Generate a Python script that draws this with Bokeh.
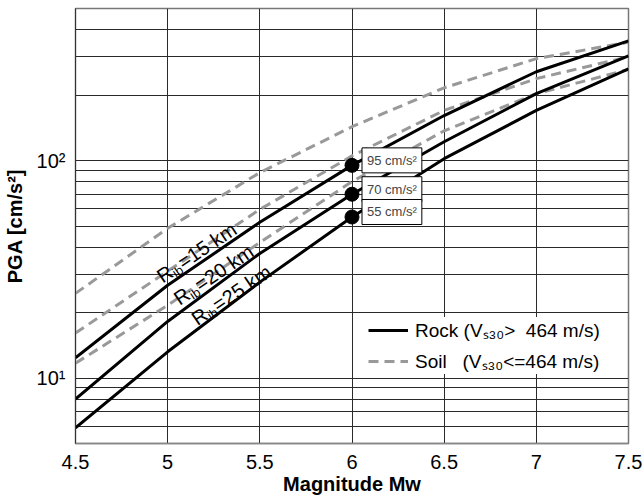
import math
from bokeh.plotting import figure
from bokeh.models import (Range1d, FixedTicker, Label, Legend, LegendItem,
                          ColumnDataSource)
from bokeh.core.properties import value
from bokeh.embed import file_html
from bokeh.resources import INLINE

# ---------------- data ----------------
magnitude = [4.5, 5.0, 5.5, 6.0, 6.5, 7.0, 7.5]
rock_r15 = [12.4, 26.7, 52.0, 95, 161, 256, 355]
rock_r20 = [8.0, 18.2, 37.4, 70, 122, 203, 303]
rock_r25 = [5.9, 13.2, 27.6, 55, 102, 170, 264]
soil_r15 = [24.5, 48.8, 88, 143, 216, 294, 350]
soil_r20 = [16.1, 31.0, 59.6, 105, 170, 238, 300]
soil_r25 = [11.7, 21.6, 42.0, 80, 137, 203, 262]

point_m = [6.0, 6.0, 6.0]
point_pga = [95, 70, 55]
point_labels = ["95 cm/s\u00b2", "70 cm/s\u00b2", "55 cm/s\u00b2"]

distance_names = ["15", "20", "25"]
distance_label_m = [4.967, 5.060, 5.156]
distance_label_pga = [27.6, 21.8, 17.6]

x_ticks = [4.5, 5.0, 5.5, 6.0, 6.5, 7.0, 7.5]
x_tick_labels = ["4.5", "5", "5.5", "6", "6.5", "7", "7.5"]
y_major = [10, 100]
y_major_labels = ["10\u00b9", "10\u00b2"]
y_minor = [5, 6, 7, 8, 9, 20, 30, 40, 50, 60, 70, 80, 90, 200, 300, 400, 500]

FONT = "Liberation Sans"
GRID = "#2a2a2a"

p = figure(width=644, height=497, y_axis_type="log",
           x_range=Range1d(4.5, 7.5), y_range=Range1d(5, 500),
           output_backend="svg", toolbar_location=None,
           min_border_left=75, min_border_right=16,
           min_border_top=8, min_border_bottom=51)
p.background_fill_color = "white"
p.border_fill_color = "white"
p.outline_line_color = "#777777"
p.outline_line_width = 1.5

# axes
p.xaxis.ticker = FixedTicker(ticks=x_ticks)
p.xaxis.major_label_overrides = {t: s for t, s in zip(x_ticks, x_tick_labels)}
p.yaxis.ticker = FixedTicker(ticks=y_major, minor_ticks=y_minor)
p.yaxis.major_label_overrides = {t: s for t, s in zip(y_major, y_major_labels)}
for ax in (p.xaxis[0], p.yaxis[0]):
    ax.major_tick_line_color = None
    ax.minor_tick_line_color = None
    ax.major_label_text_font = FONT
    ax.major_label_text_font_size = "20px"
    ax.major_label_text_color = "black"
    ax.axis_label_text_font = FONT
    ax.axis_label_text_font_size = "20px"
    ax.axis_label_text_font_style = "bold"
    ax.axis_label_text_color = "black"
p.xaxis.axis_label = "Magnitude Mw"
p.yaxis.axis_label = "PGA [cm/s\u00b2]"
p.xaxis.major_label_standoff = 5
p.xaxis.axis_label_standoff = 1
p.yaxis.major_label_standoff = 4
p.yaxis.axis_label_standoff = 8
p.xaxis.axis_line_color = "#888888"
p.xaxis.axis_line_width = 1.5
p.yaxis.axis_line_color = "#333333"

p.xgrid.ticker = FixedTicker(ticks=x_ticks)
p.xgrid.grid_line_color = GRID
p.xgrid.grid_line_width = 1
p.ygrid.grid_line_color = GRID
p.ygrid.minor_grid_line_color = GRID
p.ygrid.grid_line_width = 1
p.ygrid.minor_grid_line_width = 1

# curves
soil_style = dict(line_color="#999999", line_width=3, line_dash="10 6")
rock_style = dict(line_color="black", line_width=3)
s15 = p.line(magnitude, soil_r15, **soil_style)
p.line(magnitude, soil_r20, **soil_style)
p.line(magnitude, soil_r25, **soil_style)
r15 = p.line(magnitude, rock_r15, **rock_style)
p.line(magnitude, rock_r20, **rock_style)
p.line(magnitude, rock_r25, **rock_style)

# points
p.scatter(point_m, point_pga, size=14, color="black")
for m, v, t in zip(point_m, point_pga, point_labels):
    p.add_layout(Label(x=m, y=v, text=t, x_offset=10, y_offset=5,
                       text_baseline="middle", text_align="left",
                       text_font=FONT, text_font_size="13px",
                       background_fill_color="white",
                       border_line_color="black", border_line_width=1,
                       padding=5))

# distance labels with subscript (pieces along a rotated baseline)
# screen offsets: x to the right, y downward
theta = math.radians(34)
lift = -5.0  # perpendicular shift of the whole label (negative = up-left)
xs, ys, texts, sizes, xo, yo = [], [], [], [], [], []
for name, m, v in zip(distance_names, distance_label_m, distance_label_pga):
    pieces = [("R", "20px", 0.0, 0.0), ("ib", "13px", 14.5, 5.0),
              ("=" + name + " km", "20px", 25.0, 0.0)]
    for txt, fs, d, perp in pieces:
        perp = perp + lift
        xs.append(m)
        ys.append(v)
        texts.append(txt)
        sizes.append(fs)
        xo.append(d * math.cos(theta) + perp * math.sin(theta))
        yo.append(-d * math.sin(theta) + perp * math.cos(theta))
src = ColumnDataSource(dict(x=xs, y=ys, text=texts, size=sizes, xo=xo, yo=yo))
p.text(x="x", y="y", text="text", source=src, angle=theta,
       x_offset="xo", y_offset="yo", text_font=value(FONT),
       text_font_size="size", text_color="black",
       text_align="left", text_baseline="alphabetic")

# legend
legend = Legend(items=[
    LegendItem(label="Rock (V\u209b\u2083\u2080>\u00a0\u00a0464 m/s)", renderers=[r15]),
    LegendItem(label="Soil\u00a0\u00a0\u00a0(V\u209b\u2083\u2080<=464 m/s)", renderers=[s15]),
], location=(293, 69))
legend.label_text_font = FONT
legend.label_text_font_size = "19px"
legend.label_text_color = "black"
legend.glyph_width = 40
legend.glyph_height = 20
legend.label_height = 20
legend.label_standoff = 7
legend.spacing = 5
legend.padding = 4
legend.margin = 0
legend.border_line_color = None
legend.background_fill_color = "white"
legend.background_fill_alpha = 1.0
p.add_layout(legend, "center")

open("out.html", "w").write(file_html(p, INLINE))
